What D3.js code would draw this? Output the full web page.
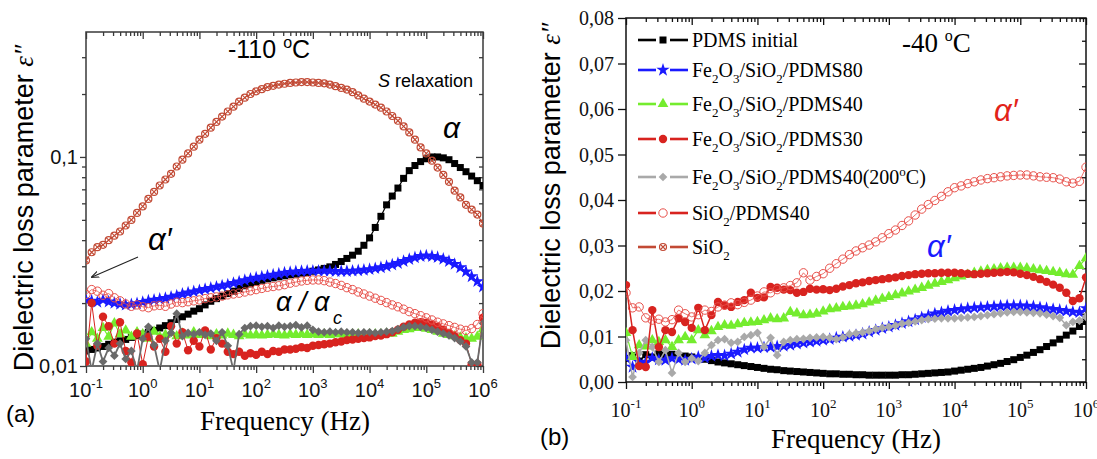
<!DOCTYPE html>
<html><head><meta charset="utf-8">
<script src="https://cdn.jsdelivr.net/npm/d3@7"></script>
<style>body{margin:0;background:#fff}svg{display:block}</style>
</head><body>
<svg id="c" width="1097" height="459"></svg>
<script>
// ---------------- DATA ----------------
const logFreq = [-1,-0.9,-0.8,-0.7,-0.6,-0.5,-0.4,-0.3,-0.2,-0.1,
 0,0.1,0.2,0.3,0.4,0.5,0.6,0.7,0.8,0.9,
 1,1.1,1.2,1.3,1.4,1.5,1.6,1.7,1.8,1.9,
 2,2.1,2.2,2.3,2.4,2.5,2.6,2.7,2.8,2.9,
 3,3.1,3.2,3.3,3.4,3.5,3.6,3.7,3.8,3.9,
 4,4.1,4.2,4.3,4.4,4.5,4.6,4.7,4.8,4.9,
 5,5.1,5.2,5.3,5.4,5.5,5.6,5.7,5.8,5.9,
 6];

// panel (a), -110 C
const aSiO2 = [0.032,0.035,0.037,0.038,0.040,0.042,0.044,0.047,0.050,0.054,
 0.058,0.063,0.068,0.073,0.078,0.083,0.090,0.097,0.104,0.112,
 0.121,0.129,0.138,0.147,0.156,0.165,0.174,0.184,0.192,0.200,
 0.206,0.211,0.216,0.219,0.222,0.224,0.226,0.227,0.228,0.228,
 0.227,0.226,0.225,0.222,0.218,0.214,0.210,0.204,0.197,0.190,
 0.184,0.178,0.172,0.165,0.157,0.149,0.140,0.131,0.121,0.111,
 0.104,0.096,0.089,0.082,0.076,0.069,0.064,0.059,0.056,0.053,
 0.048];
const aPDMS = [0.0118,0.0120,0.0122,0.0124,0.0127,0.0130,0.0132,0.0134,0.0137,0.0140,
 0.0142,0.0145,0.0148,0.0152,0.0156,0.0161,0.0167,0.0172,0.0177,0.0183,
 0.0188,0.0196,0.0204,0.0210,0.0216,0.0222,0.0228,0.0235,0.0242,0.0247,
 0.0252,0.0257,0.0261,0.0264,0.0267,0.0270,0.0273,0.0275,0.0278,0.0280,
 0.0284,0.0288,0.0293,0.0298,0.0306,0.0316,0.0327,0.0339,0.0354,0.0378,
 0.0410,0.0460,0.0520,0.0590,0.0650,0.0710,0.0790,0.0860,0.0910,0.0950,
 0.0980,0.1000,0.1000,0.0990,0.0970,0.0930,0.0890,0.0850,0.0810,0.0770,
 0.0730];
const aFe80 = [0.0207,0.0205,0.0202,0.0207,0.0203,0.0200,0.0198,0.0196,0.0197,0.0199,
 0.0202,0.0205,0.0207,0.0209,0.0211,0.0214,0.0217,0.0221,0.0224,0.0227,
 0.0230,0.0233,0.0236,0.0239,0.0242,0.0245,0.0249,0.0253,0.0257,0.0261,
 0.0264,0.0267,0.0270,0.0273,0.0276,0.0279,0.0281,0.0283,0.0284,0.0285,
 0.0285,0.0285,0.0285,0.0285,0.0284,0.0284,0.0284,0.0285,0.0286,0.0288,
 0.0290,0.0293,0.0296,0.0300,0.0305,0.0310,0.0317,0.0324,0.0330,0.0335,
 0.0337,0.0335,0.0331,0.0325,0.0317,0.0307,0.0296,0.0283,0.0268,0.0254,
 0.0239];
const aFe40 = [0.0128,0.0145,0.0135,0.0152,0.0138,0.0160,0.0142,0.0148,0.0138,0.0145,
 0.0142,0.0135,0.0146,0.0138,0.0141,0.0144,0.0139,0.0143,0.0140,0.0145,
 0.0141,0.0143,0.0139,0.0142,0.0140,0.0143,0.0141,0.0139,0.0142,0.0140,
 0.0141,0.0140,0.0141,0.0142,0.0141,0.0140,0.0142,0.0141,0.0142,0.0141,
 0.0142,0.0141,0.0142,0.0141,0.0142,0.0142,0.0141,0.0142,0.0142,0.0141,
 0.0142,0.0142,0.0142,0.0143,0.0143,0.0146,0.0149,0.0150,0.0152,0.0152,
 0.0151,0.0149,0.0146,0.0143,0.0141,0.0139,0.0137,0.0136,0.0135,0.0138,
 0.0150];
const aFe30 = [0.0105,0.0200,0.0125,0.0172,0.0155,0.0128,0.0162,0.0118,0.0104,0.0143,
 0.0102,0.0138,0.0124,0.0135,0.0117,0.0155,0.0128,0.0145,0.0119,0.0132,
 0.0124,0.0148,0.0120,0.0136,0.0128,0.0117,0.0114,0.0117,0.0112,0.0115,
 0.0113,0.0117,0.0114,0.0118,0.0117,0.0120,0.0120,0.0121,0.0123,0.0122,
 0.0125,0.0126,0.0127,0.0128,0.0130,0.0131,0.0133,0.0134,0.0135,0.0136,
 0.0137,0.0139,0.0140,0.0142,0.0145,0.0149,0.0154,0.0158,0.0161,0.0162,
 0.0161,0.0158,0.0154,0.0149,0.0144,0.0139,0.0133,0.0128,0.0102,0.0102,
 0.0170];
const aFe40h = [0.0135,0.0080,0.0128,0.0105,0.0122,0.0112,0.0128,0.0108,0.0118,0.0090,
 0.0135,0.0154,0.0126,0.0095,0.0132,0.0144,0.0178,0.0139,0.0144,0.0142,
 0.0145,0.0141,0.0143,0.0132,0.0145,0.0125,0.0090,0.0142,0.0152,0.0155,
 0.0156,0.0154,0.0155,0.0152,0.0156,0.0154,0.0155,0.0157,0.0153,0.0156,
 0.0149,0.0146,0.0145,0.0146,0.0145,0.0146,0.0145,0.0145,0.0144,0.0145,
 0.0145,0.0144,0.0145,0.0146,0.0147,0.0150,0.0153,0.0155,0.0155,0.0154,
 0.0152,0.0149,0.0146,0.0143,0.0140,0.0136,0.0131,0.0124,0.0104,0.0104,
 0.0160];
const aSiO2P40 = [0.0220,0.0232,0.0228,0.0218,0.0222,0.0212,0.0205,0.0198,0.0193,0.0196,
 0.0192,0.0190,0.0194,0.0195,0.0193,0.0198,0.0202,0.0201,0.0203,0.0205,
 0.0207,0.0210,0.0212,0.0214,0.0216,0.0219,0.0221,0.0223,0.0226,0.0229,
 0.0232,0.0235,0.0238,0.0240,0.0242,0.0245,0.0249,0.0252,0.0255,0.0257,
 0.0258,0.0258,0.0256,0.0252,0.0248,0.0243,0.0237,0.0232,0.0226,0.0221,
 0.0216,0.0211,0.0206,0.0201,0.0196,0.0192,0.0187,0.0182,0.0178,0.0174,
 0.0170,0.0166,0.0162,0.0159,0.0156,0.0153,0.0150,0.0148,0.0151,0.0158,
 0.0178];

// panel (b), -40 C
const bPDMS = [0.0052,0.0058,0.0046,0.0060,0.0055,0.0062,0.0059,0.0061,0.0058,0.0057,
 0.0055,0.0052,0.0050,0.0047,0.0044,0.0042,0.0040,0.0038,0.0036,0.0034,
 0.0032,0.0030,0.0028,0.0027,0.0025,0.0024,0.0023,0.0022,0.0021,0.0020,
 0.0019,0.0018,0.0018,0.0017,0.0017,0.0016,0.0016,0.0015,0.0015,0.0015,
 0.0015,0.0015,0.0016,0.0016,0.0017,0.0018,0.0019,0.0020,0.0021,0.0022,
 0.0024,0.0026,0.0028,0.0030,0.0032,0.0035,0.0038,0.0041,0.0045,0.0049,
 0.0054,0.0059,0.0065,0.0071,0.0078,0.0086,0.0094,0.0103,0.0112,0.0122,
 0.0133];
const bFe80 = [0.0053,0.0033,0.0044,0.0043,0.0053,0.0049,0.0048,0.0052,0.0050,0.0048,
 0.0051,0.0055,0.0053,0.0057,0.0059,0.0058,0.0062,0.0066,0.0071,0.0075,
 0.0075,0.0076,0.0077,0.0078,0.0079,0.0081,0.0084,0.0086,0.0088,0.0090,
 0.0092,0.0094,0.0097,0.0099,0.0101,0.0103,0.0106,0.0110,0.0114,0.0118,
 0.0121,0.0125,0.0129,0.0133,0.0137,0.0142,0.0146,0.0150,0.0153,0.0156,
 0.0158,0.0160,0.0162,0.0163,0.0164,0.0165,0.0166,0.0167,0.0168,0.0168,
 0.0168,0.0167,0.0166,0.0164,0.0162,0.0160,0.0158,0.0156,0.0154,0.0153,
 0.0162];
const bFe40 = [0.0108,0.0055,0.0081,0.0078,0.0092,0.0088,0.0092,0.0077,0.0092,0.0099,
 0.0092,0.0114,0.0103,0.0112,0.0121,0.0125,0.0124,0.0127,0.0130,0.0131,
 0.0132,0.0136,0.0140,0.0138,0.0140,0.0154,0.0151,0.0147,0.0148,0.0150,
 0.0155,0.0160,0.0162,0.0165,0.0166,0.0168,0.0171,0.0175,0.0179,0.0183,
 0.0187,0.0191,0.0195,0.0199,0.0203,0.0207,0.0212,0.0216,0.0220,0.0224,
 0.0228,0.0232,0.0236,0.0240,0.0243,0.0246,0.0248,0.0250,0.0251,0.0251,
 0.0251,0.0250,0.0248,0.0246,0.0244,0.0242,0.0240,0.0237,0.0236,0.0255,
 0.0272];
const bFe30 = [0.0213,0.0114,0.0035,0.0033,0.0158,0.0077,0.0114,0.0110,0.0140,0.0132,
 0.0119,0.0163,0.0114,0.0147,0.0176,0.0168,0.0165,0.0176,0.0180,0.0196,
 0.0185,0.0186,0.0209,0.0207,0.0203,0.0202,0.0196,0.0198,0.0205,0.0203,
 0.0204,0.0202,0.0205,0.0210,0.0213,0.0217,0.0219,0.0222,0.0224,0.0226,
 0.0228,0.0230,0.0233,0.0235,0.0237,0.0238,0.0239,0.0239,0.0240,0.0240,
 0.0240,0.0239,0.0238,0.0237,0.0238,0.0239,0.0240,0.0241,0.0242,0.0241,
 0.0238,0.0235,0.0231,0.0226,0.0220,0.0214,0.0207,0.0196,0.0178,0.0184,
 0.0230];
const bFe40h = [0.0092,0.0011,0.0064,0.0092,0.0077,0.0044,0.0070,0.0020,0.0064,0.0044,
 0.0052,0.0046,0.0064,0.0081,0.0092,0.0094,0.0086,0.0088,0.0099,0.0103,
 0.0108,0.0077,0.0097,0.0059,0.0088,0.0092,0.0094,0.0095,0.0097,0.0098,
 0.0099,0.0097,0.0094,0.0098,0.0105,0.0107,0.0109,0.0112,0.0116,0.0119,
 0.0121,0.0124,0.0128,0.0130,0.0133,0.0136,0.0138,0.0139,0.0140,0.0140,
 0.0140,0.0141,0.0142,0.0143,0.0145,0.0147,0.0149,0.0151,0.0153,0.0154,
 0.0154,0.0153,0.0152,0.0151,0.0148,0.0145,0.0141,0.0125,0.0132,0.0135,
 0.0143];
const bSiO2P40 = [0.0196,0.0163,0.0165,0.0141,0.0136,0.0138,0.0132,0.0137,0.0158,0.0150,
 0.0143,0.0148,0.0158,0.0155,0.0165,0.0169,0.0174,0.0170,0.0175,0.0180,
 0.0189,0.0198,0.0196,0.0203,0.0207,0.0212,0.0218,0.0240,0.0224,0.0232,
 0.0238,0.0250,0.0260,0.0270,0.0280,0.0288,0.0295,0.0301,0.0308,0.0317,
 0.0326,0.0334,0.0344,0.0354,0.0367,0.0380,0.0390,0.0399,0.0408,0.0418,
 0.0427,0.0431,0.0436,0.0440,0.0444,0.0447,0.0449,0.0451,0.0453,0.0454,
 0.0455,0.0455,0.0453,0.0451,0.0450,0.0449,0.0446,0.0440,0.0437,0.0441,
 0.0472];

const xTickExp = [-1,0,1,2,3,4,5,6];
const yTickLabelsA = [[0.01,"0,01"],[0.1,"0,1"]];
const yTickLabelsB = [[0,"0,00"],[0.01,"0,01"],[0.02,"0,02"],[0.03,"0,03"],[0.04,"0,04"],[0.05,"0,05"],[0.06,"0,06"],[0.07,"0,07"],[0.08,"0,08"]];
const legendLabels = ["PDMS initial","Fe_2O_3/SiO_2/PDMS80","Fe_2O_3/SiO_2/PDMS40","Fe_2O_3/SiO_2/PDMS30","Fe_2O_3/SiO_2/PDMS40(200^oC)","SiO_2/PDMS40","SiO_2"];

// ---------------- STYLE ----------------
const SANS = "'Liberation Sans', Arial, sans-serif";
const SERIF = "'Liberation Serif', 'Times New Roman', serif";
const C = {black:"#000000", blue:"#1a1aff", green:"#74ec2e", red:"#d8231f", grayA:"#6a6a6a", grayB:"#a9a9a9", open:"#e8504a", sio2:"#c24a35"};

const svg = d3.select("#c");

function marker(g, type, color, x, y) {
  const t = `translate(${x},${y})`;
  if (type === "square") g.append("rect").attr("x", x-3.5).attr("y", y-3.5).attr("width", 7).attr("height", 7).attr("fill", color);
  else if (type === "star") g.append("path").attr("d", d3.symbol(d3.symbolStar, 55)()).attr("transform", t).attr("fill", color);
  else if (type === "triangle") g.append("path").attr("d", d3.symbol(d3.symbolTriangle, 50)()).attr("transform", t).attr("fill", color);
  else if (type === "circle") g.append("circle").attr("cx", x).attr("cy", y).attr("r", 4.2).attr("fill", color);
  else if (type === "diamond") g.append("path").attr("d", d3.symbol(d3.symbolSquare, 38)()).attr("transform", t + " rotate(45)").attr("fill", color);
  else if (type === "open") g.append("circle").attr("cx", x).attr("cy", y).attr("r", 4.2).attr("fill", "none").attr("stroke", color).attr("stroke-width", 1);
  else if (type === "cross") {
    g.append("circle").attr("cx", x).attr("cy", y).attr("r", 3.5).attr("fill", "none").attr("stroke", color).attr("stroke-width", 1.2);
    g.append("path").attr("d", `M${x-2.5},${y-2.5}L${x+2.5},${y+2.5}M${x-2.5},${y+2.5}L${x+2.5},${y-2.5}`).attr("stroke", color).attr("stroke-width", 1.1);
  }
}

function richText(sel, str, sub, subDy, supDy) {
  let parts = [], i = 0;
  while (i < str.length) {
    const c = str[i];
    if (c === "_" || c === "^") { parts.push({t: str[i+1], k: c}); i += 2; }
    else { let j = i; while (j < str.length && str[j] !== "_" && str[j] !== "^") j++; parts.push({t: str.slice(i, j), k: ""}); i = j; }
  }
  let shift = 0;
  parts.forEach(p => {
    const target = p.k === "_" ? subDy : p.k === "^" ? -supDy : 0;
    const ts = sel.append("tspan").text(p.t).attr("dy", target - shift);
    if (p.k) ts.attr("font-size", sub);
    shift = target;
  });
}

function panel(P) {
  const g = svg.append("g");
  const x = P.x, y = P.y;
  const [x0, x1] = x.range(), [y0, y1] = y.range();
  const majX = xTickExp.map(e => Math.pow(10, e));
  const minX = [];
  for (let e = -1; e < 6; e++) for (let m = 2; m <= 9; m++) minX.push(m * Math.pow(10, e));
  const strip = s => s.select(".domain").remove();
  const ax = (axis, tr) => g.append("g").attr("transform", tr).call(axis).call(strip)
     .call(s => s.selectAll("line").attr("stroke", P.axisColor).attr("stroke-width", 1.3));
  ax(d3.axisBottom(x).tickValues(majX).tickSize(7).tickFormat(""), `translate(0,${y0})`);
  ax(d3.axisBottom(x).tickValues(minX).tickSize(4).tickFormat(""), `translate(0,${y0})`);
  ax(d3.axisTop(x).tickValues(majX).tickSize(-7).tickFormat(""), `translate(0,${y1})`);
  ax(d3.axisTop(x).tickValues(minX).tickSize(-4).tickFormat(""), `translate(0,${y1})`);
  ax(d3.axisLeft(y).tickValues(P.yMaj).tickSize(P.leftMajLen).tickFormat(""), `translate(${x0},0)`);
  if (P.yMinLeft) ax(d3.axisLeft(y).tickValues(P.yMin).tickSize(4).tickFormat(""), `translate(${x0},0)`);
  ax(d3.axisRight(y).tickValues(P.yMaj).tickSize(-7).tickFormat(""), `translate(${x1},0)`);
  ax(d3.axisRight(y).tickValues(P.yMin).tickSize(-4).tickFormat(""), `translate(${x1},0)`);
  g.append("rect").attr("x", x0).attr("y", y1).attr("width", x1 - x0).attr("height", y0 - y1)
    .attr("fill", "none").attr("stroke", P.axisColor).attr("stroke-width", 1.5);

  // tick labels
  xTickExp.forEach(e => {
    const t = g.append("text").attr("x", x(Math.pow(10, e))).attr("y", P.xLabY).attr("text-anchor", "middle")
      .attr("font-family", P.tickFont).attr("font-size", P.tickSize).attr("fill", "#111");
    t.append("tspan").text("10");
    t.append("tspan").text(String(e)).attr("dy", -P.tickSize * 0.45).attr("font-size", P.tickSize * 0.65);
  });
  P.yLabels.forEach(([v, s]) => {
    g.append("text").attr("x", x0 - P.yLabOff).attr("y", y(v)).attr("dy", "0.35em").attr("text-anchor", "end")
      .attr("font-family", P.tickFont).attr("font-size", P.tickSize).attr("fill", "#111").text(s);
  });

  // data
  const clipId = "clip" + P.id;
  svg.append("clipPath").attr("id", clipId).append("rect").attr("x", x0).attr("y", y1).attr("width", x1 - x0).attr("height", y0 - y1);
  const dg = g.append("g").attr("clip-path", `url(#${clipId})`);
  P.series.forEach(S => {
    const pts = logFreq.map((lf, i) => ({f: Math.pow(10, lf), v: S.values[i]}));
    const line = d3.line().x(d => x(d.f)).y(d => y(Math.max(d.v, P.minV)));
    dg.append("path").attr("d", line(pts)).attr("fill", "none").attr("stroke", S.line || S.color).attr("stroke-width", S.lw || 1.2);
    const mg = dg.append("g");
    pts.forEach(d => { if (d.v >= P.minV) marker(mg, S.type, S.color, x(d.f), y(d.v)); });
  });
  return g;
}

// ---------------- PANEL A ----------------
const xA = d3.scaleLog().domain([0.1, 1e6]).range([86, 483]);
const yA = d3.scaleLog().domain([0.01, 0.396]).range([366, 32]);
const yMinA = [0.02,0.03,0.04,0.05,0.06,0.07,0.08,0.09,0.2,0.3];
const gA = panel({id: "A", x: xA, y: yA, axisColor: "#3a3a3a", yMaj: [0.01, 0.1], yMin: yMinA, yMinLeft: true, leftMajLen: 6,
  tickFont: SANS, tickSize: 20, xLabY: 397, yLabels: yTickLabelsA, yLabOff: 8, minV: 0.0095,
  series: [
    {values: aPDMS, type: "square", color: C.black},
    {values: aFe80, type: "star", color: C.blue},
    {values: aFe40, type: "triangle", color: C.green},
    {values: aFe30, type: "circle", color: C.red, lw: 1},
    {values: aFe40h, type: "diamond", color: C.grayA, lw: 1.8},
    {values: aSiO2P40, type: "open", color: C.open, lw: 0.8},
    {values: aSiO2, type: "cross", color: C.sio2, lw: 1}
  ]});

// annotations A
const tA = svg.append("text").attr("x", 228).attr("y", 58).attr("font-family", SANS).attr("font-size", 25).attr("fill", "#000");
richText(tA, "-110 ^oC", 16, 0, 10);
const sr = svg.append("text").attr("x", 378).attr("y", 87).attr("font-family", SANS).attr("font-size", 18).attr("fill", "#000");
sr.append("tspan").text("S").attr("font-style", "italic");
sr.append("tspan").text(" relaxation");
svg.append("text").attr("x", 443).attr("y", 138).attr("font-family", SANS).attr("font-style", "italic").attr("font-size", 30).text("α");
svg.append("text").attr("x", 148).attr("y", 250).attr("font-family", SANS).attr("font-style", "italic").attr("font-size", 31).text("α′");
svg.append("defs").append("marker").attr("id", "arr").attr("viewBox", "0 0 10 10").attr("refX", 9).attr("refY", 5)
  .attr("markerWidth", 7).attr("markerHeight", 7).attr("orient", "auto")
  .append("path").attr("d", "M0,1L10,5L0,9").attr("fill", "none").attr("stroke", "#222").attr("stroke-width", 1.4);
svg.append("line").attr("x1", 138).attr("y1", 257).attr("x2", 92).attr("y2", 277).attr("stroke", "#222").attr("stroke-width", 1.1).attr("marker-end", "url(#arr)");
svg.append("text").attr("x", 276).attr("y", 311).attr("font-family", SANS).attr("font-style", "italic").attr("font-size", 27).text("α / α");
svg.append("text").attr("x", 333).attr("y", 324).attr("font-family", SANS).attr("font-style", "italic").attr("font-size", 18).text("c");
svg.append("text").attr("x", 6).attr("y", 422).attr("font-family", SANS).attr("font-size", 24).text("(a)");
svg.append("text").attr("x", 285).attr("y", 430).attr("text-anchor", "middle").attr("font-family", SERIF).attr("font-size", 27).text("Frequency (Hz)");
const ylA = svg.append("text").attr("transform", "translate(33,208) rotate(-90)").attr("text-anchor", "middle").attr("font-family", SANS).attr("font-size", 27);
ylA.append("tspan").text("Dielectric loss parameter ");
ylA.append("tspan").text("ε″").attr("font-family", SERIF).attr("font-style", "italic");

// ---------------- PANEL B ----------------
const xB = d3.scaleLog().domain([0.1, 1e6]).range([626, 1086]);
const yB = d3.scaleLinear().domain([0, 0.08]).range([382, 18]);
const yMinB = [0.005,0.015,0.025,0.035,0.045,0.055,0.065,0.075];
const gB = panel({id: "B", x: xB, y: yB, axisColor: "#111", yMaj: yTickLabelsB.map(d => d[0]), yMin: yMinB, yMinLeft: false, leftMajLen: 8,
  tickFont: SERIF, tickSize: 20, xLabY: 417, yLabels: yTickLabelsB, yLabOff: 12, minV: -1,
  series: [
    {values: bPDMS, type: "square", color: C.black},
    {values: bFe80, type: "star", color: C.blue},
    {values: bFe40, type: "triangle", color: C.green},
    {values: bFe40h, type: "diamond", color: C.grayB, lw: 1.5},
    {values: bFe30, type: "circle", color: C.red, lw: 1.5},
    {values: bSiO2P40, type: "open", color: C.open, lw: 0.8}
  ]});

// legend
const legendStyles = [
  {type: "square", color: C.black}, {type: "star", color: C.blue}, {type: "triangle", color: C.green},
  {type: "circle", color: C.red}, {type: "diamond", color: C.grayB}, {type: "open", color: C.red, mcol: C.open}, {type: "cross", color: C.sio2}
];
const legendY = [40, 70, 104, 139, 177, 213, 247];
const lg = svg.append("g");
legendLabels.forEach((lab, i) => {
  const st = legendStyles[i], yy = legendY[i];
  lg.append("line").attr("x1", 638).attr("x2", 656).attr("y1", yy).attr("y2", yy).attr("stroke", st.color).attr("stroke-width", 2.6);
  lg.append("line").attr("x1", 670).attr("x2", 688).attr("y1", yy).attr("y2", yy).attr("stroke", st.color).attr("stroke-width", 2.6);
  if (st.type === "open") lg.append("circle").attr("cx", 663).attr("cy", yy).attr("r", 4.2).attr("fill", "#fff").attr("stroke", st.mcol).attr("stroke-width", 1);
  else marker(lg, st.type, st.color, 663, yy);
  const t = lg.append("text").attr("x", 692).attr("y", yy + 7).attr("font-family", SERIF).attr("font-size", 20).attr("fill", "#000");
  richText(t, lab, 13, 6, 8);
});

// annotations B
const tB = svg.append("text").attr("x", 902).attr("y", 52).attr("font-family", SERIF).attr("font-size", 27);
richText(tB, "-40 ^oC", 16, 0, 11);
svg.append("text").attr("x", 994).attr("y", 121).attr("font-family", SANS).attr("font-style", "italic").attr("font-size", 31).attr("fill", "#e2231a").text("α′");
svg.append("text").attr("x", 927).attr("y", 257).attr("font-family", SANS).attr("font-style", "italic").attr("font-size", 31).attr("fill", "#1a1aff").text("α′");
svg.append("text").attr("x", 540).attr("y", 445).attr("font-family", SANS).attr("font-size", 24).text("(b)");
svg.append("text").attr("x", 856).attr("y", 448).attr("text-anchor", "middle").attr("font-family", SERIF).attr("font-size", 27).text("Frequency (Hz)");
const ylB = svg.append("text").attr("transform", "translate(560,186) rotate(-90)").attr("text-anchor", "middle").attr("font-family", SANS).attr("font-size", 27);
ylB.append("tspan").text("Dielectric loss parameter ");
ylB.append("tspan").text("ε″").attr("font-family", SERIF).attr("font-style", "italic");
</script>
</body></html>
